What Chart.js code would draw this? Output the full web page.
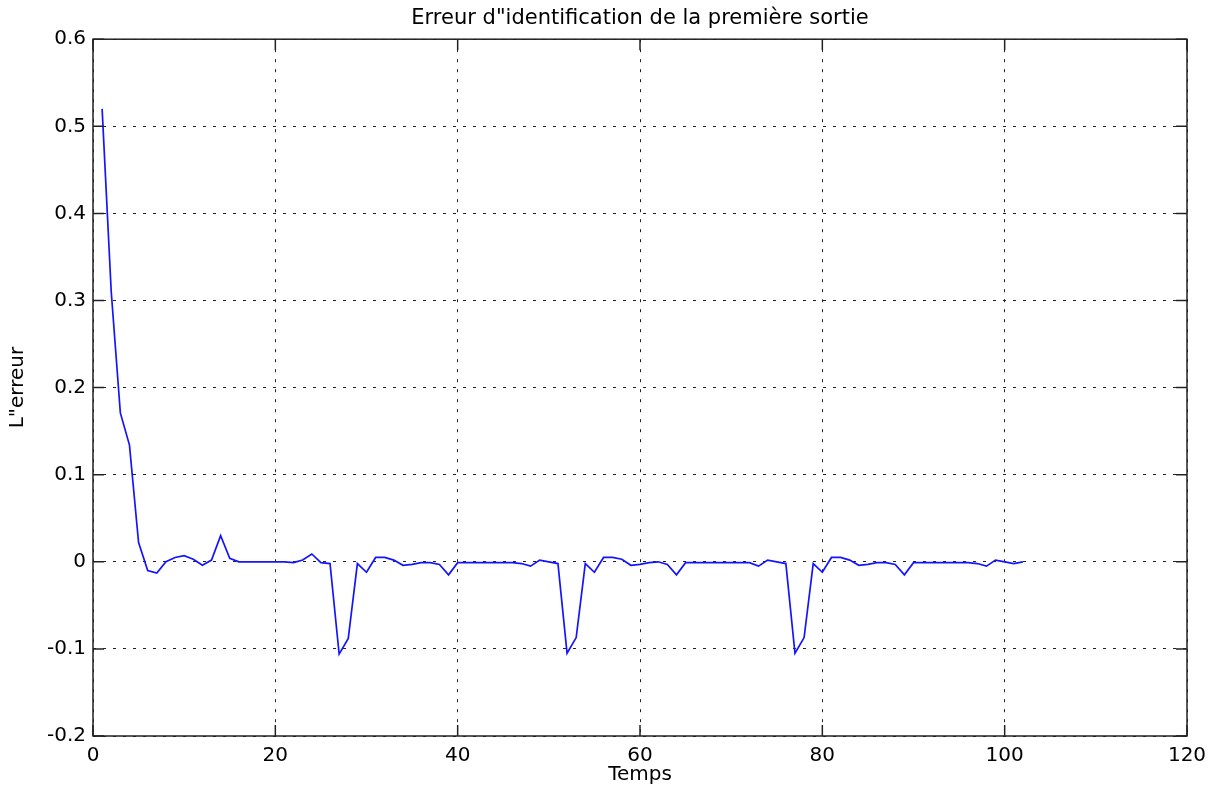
<!DOCTYPE html>
<html>
<head>
<meta charset="utf-8">
<script src="https://cdn.jsdelivr.net/npm/chart.js@4.4.0/dist/chart.umd.min.js"></script>
<style>
  html, body { margin: 0; padding: 0; background: #fff; }
  #wrap { width: 1219px; height: 791px; }
</style>
</head>
<body>
<div id="wrap"><canvas id="myChart" width="1219" height="791"></canvas></div>
<script>
// erreur d'identification (t = 1 .. 102)
const erreur = [
  0.52, 0.31, 0.171, 0.134, 0.022, -0.010, -0.013, 0.000, 0.005, 0.007,
  0.003, -0.004, 0.002, 0.030, 0.004, 0.000, 0.000, 0.000, 0.000, 0.000,
  0.000, -0.001, 0.002, 0.009, -0.001, -0.002, -0.106, -0.088, -0.002, -0.012,
  0.005, 0.005, 0.002, -0.004, -0.003, -0.001, -0.001, -0.003, -0.015, -0.001,
  -0.001, -0.001, -0.001, -0.001, -0.001, -0.001, -0.002, -0.005, 0.002, 0.000,
  -0.002, -0.105, -0.087, -0.002, -0.012, 0.005, 0.005, 0.003, -0.004, -0.003,
  -0.001, 0.000, -0.003, -0.015, -0.001, -0.001, -0.001, -0.001, -0.001, -0.001,
  -0.001, -0.001, -0.005, 0.002, 0.000, -0.002, -0.105, -0.087, -0.002, -0.012,
  0.005, 0.005, 0.002, -0.004, -0.003, -0.001, -0.001, -0.003, -0.015, -0.001,
  -0.001, -0.001, -0.001, -0.001, -0.001, -0.001, -0.002, -0.005, 0.002, 0.000,
  -0.002, 0.000
];
const temps = erreur.map((v, i) => i + 1);

const xTicks = [0, 20, 40, 60, 80, 100, 120];
const yTicks = [-0.2, -0.1, 0, 0.1, 0.2, 0.3, 0.4, 0.5, 0.6];

const titre = 'Erreur d"identification de la première sortie';
const titreX = 'Temps';
const titreY = 'L"erreur';

const police = "'DejaVu Sans', Arial, sans-serif";

// cadre + graduations vers l'intérieur (style matlab)
const cadre = {
  id: 'cadre',
  afterDraw(chart) {
    const { ctx, chartArea: a, scales } = chart;
    const tl = 11;
    ctx.save();
    ctx.strokeStyle = '#222';
    ctx.lineWidth = 1.5;
    ctx.strokeRect(a.left, a.top, a.right - a.left, a.bottom - a.top);
    ctx.beginPath();
    xTicks.forEach((t) => {
      const px = scales.x.getPixelForValue(t);
      ctx.moveTo(px, a.bottom); ctx.lineTo(px, a.bottom - tl);
      ctx.moveTo(px, a.top); ctx.lineTo(px, a.top + tl);
    });
    yTicks.forEach((t) => {
      const py = scales.y.getPixelForValue(t);
      ctx.moveTo(a.left, py); ctx.lineTo(a.left + tl, py);
      ctx.moveTo(a.right, py); ctx.lineTo(a.right - tl, py);
    });
    ctx.stroke();
    ctx.restore();
  }
};

const ctx = document.getElementById('myChart');

const config = {
  type: 'line',
  data: {
    datasets: [{
      data: temps.map((t, i) => ({ x: t, y: erreur[i] })),
      borderColor: 'rgb(20, 20, 255)',
      borderWidth: 1.7,
      pointRadius: 0,
      tension: 0,
      fill: false
    }]
  },
  options: {
    responsive: false,
    animation: false,
    layout: { padding: { right: 32, left: 0, top: 0, bottom: 0 } },
    plugins: {
      legend: { display: false },
      tooltip: { enabled: false },
      title: {
        display: true,
        text: titre,
        fullSize: false,
        color: '#000',
        font: { family: police, size: 21, weight: 'normal' },
        padding: { top: 6, bottom: 8 }
      }
    },
    scales: {
      x: {
        type: 'linear',
        min: 0,
        max: 120,
        afterFit: (s) => { s.height = 55; },
        afterBuildTicks: (s) => { s.ticks = xTicks.map((v) => ({ value: v })); },
        ticks: {
          color: '#000',
          padding: 8,
          maxRotation: 0,
          font: { family: police, size: 20 },
          callback: (v) => String(v)
        },
        grid: { color: '#222', lineWidth: 1, drawTicks: false },
        border: { display: false, dash: [3, 7] },
        title: {
          display: true,
          text: titreX,
          color: '#000',
          font: { family: police, size: 20 },
          padding: { top: 0, bottom: 4 }
        }
      },
      y: {
        type: 'linear',
        min: -0.2,
        max: 0.6,
        afterFit: (s) => { s.width = 93; },
        afterBuildTicks: (s) => { s.ticks = yTicks.map((v) => ({ value: v })); },
        ticks: {
          color: '#000',
          padding: 7,
          font: { family: police, size: 20 },
          callback: (v) => String(Math.round(v * 10) / 10)
        },
        grid: { color: '#222', lineWidth: 1, drawTicks: false },
        border: { display: false, dash: [3, 7] },
        title: {
          display: true,
          text: titreY,
          color: '#000',
          font: { family: police, size: 20 },
          padding: { top: 6, bottom: 0 }
        }
      }
    }
  },
  plugins: [cadre]
};

const myChart = new Chart(ctx, config);
</script>
</body>
</html>
